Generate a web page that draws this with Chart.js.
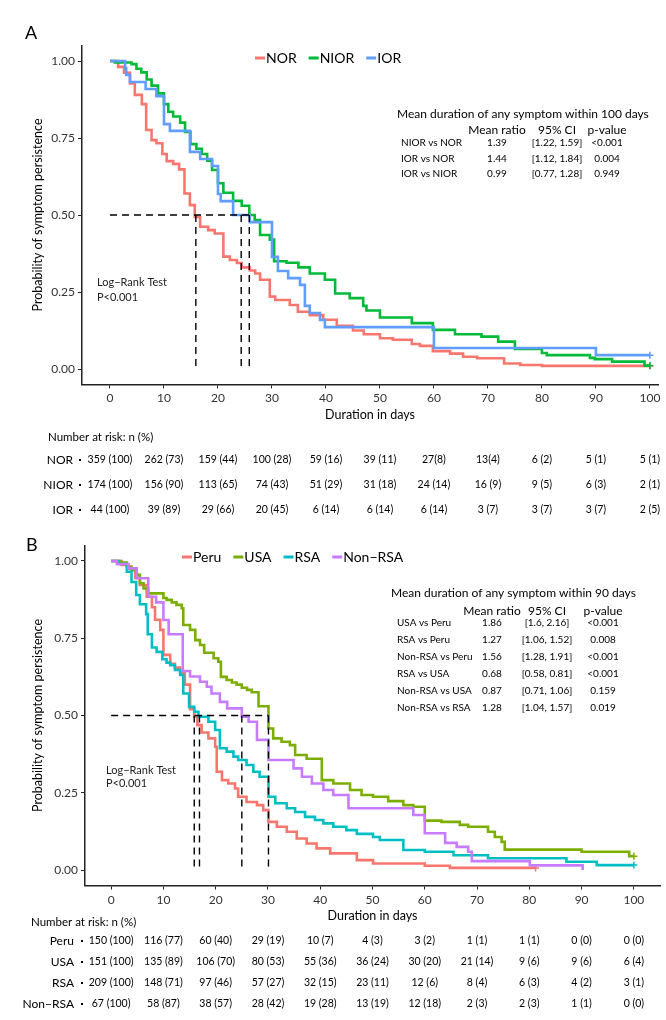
<!DOCTYPE html>
<html>
<head>
<meta charset="utf-8">
<script src="https://cdn.jsdelivr.net/npm/chart.js@4.4.0/dist/chart.umd.min.js"></script>
<style>
body{margin:0;background:#fff;width:666px;height:1020px;overflow:hidden}
canvas{display:block}
</style>
</head>
<body>
<canvas id="chartA" width="666" height="525"></canvas>
<canvas id="chartB" width="666" height="495"></canvas>
<script>
var FONT='Lato, "Open Sans", sans-serif';
var xTicks=[0,10,20,30,40,50,60,70,80,90,100];
var yTicks=[0,0.25,0.5,0.75,1];

// panel A - symptom groups
var groupsA=['NOR','NIOR','IOR'];
var colorsA=['#F8766D','#00BA38','#619CFF'];
var norTime=[0,1.5,2.6,3.7,4.6,5.9,6.7,7.7,8.6,9.7,10.5,11.7,12.8,13.8,14.8,15.7,16.7,18.2,19.4,21,22.2,23.5,24.4,25.9,26.9,27.8,29.6,30.6,33.3,34.8,37,39.5,42,45,47,50,52.4,55.9,57.4,59.8,63,65.4,68,73,76,80,100];
var norSurv=[1,0.981,0.962,0.927,0.89,0.86,0.776,0.743,0.733,0.698,0.675,0.666,0.648,0.57,0.532,0.494,0.462,0.451,0.44,0.365,0.354,0.344,0.33,0.32,0.31,0.29,0.235,0.224,0.208,0.186,0.175,0.16,0.14,0.125,0.113,0.1,0.095,0.081,0.075,0.058,0.05,0.04,0.035,0.018,0.013,0.01,0.01];
var niorTime=[0,0.9,4,4.9,5.8,6.8,7.7,8.9,10,10.8,11.7,13,13.9,14.9,16,17,18,18.9,20,21,22.8,24.4,25.8,26.8,27.8,29.6,30.4,32.7,34.9,37,39.8,41.7,44.4,46.9,47.5,50,55.9,59.8,63.9,68.8,71.9,75,80,80.9,88.9,89.8,93,99,100];
var niorSurv=[1,0.995,0.99,0.975,0.963,0.94,0.92,0.895,0.86,0.835,0.82,0.8,0.77,0.73,0.715,0.698,0.676,0.646,0.603,0.572,0.546,0.53,0.5,0.484,0.435,0.42,0.35,0.345,0.33,0.31,0.29,0.245,0.23,0.205,0.19,0.167,0.149,0.127,0.113,0.105,0.089,0.065,0.052,0.045,0.036,0.032,0.024,0.011,0.011];
var iorTime=[0,2.8,3,3.7,6.6,8.6,10,11.1,14.8,16.7,18.9,20,20.5,22.8,25.9,30,31.1,33,35.2,36.1,37,38.9,39.8,60,90,100];
var iorSurv=[1,0.977,0.955,0.932,0.909,0.886,0.795,0.773,0.705,0.682,0.659,0.568,0.545,0.5,0.477,0.364,0.318,0.295,0.273,0.205,0.182,0.159,0.136,0.068,0.045,0.045];
var mediansA=[15.9,24.3,25.8];

var compLabelsA=['NIOR vs NOR','IOR vs NOR','IOR vs NIOR'];
var compRatioA=['1.39','1.44','0.99'];
var compCiA=['[1.22, 1.59]','[1.12, 1.84]','[0.77, 1.28]'];
var compPA=['<0.001','0.004','0.949'];

var riskNOR=['359 (100)','262 (73)','159 (44)','100 (28)','59 (16)','39 (11)','27(8)','13(4)','6 (2)','5 (1)','5 (1)'];
var riskNIOR=['174 (100)','156 (90)','113 (65)','74 (43)','51 (29)','31 (18)','24 (14)','16 (9)','9 (5)','6 (3)','2 (1)'];
var riskIOR=['44 (100)','39 (89)','29 (66)','20 (45)','6 (14)','6 (14)','6 (14)','3 (7)','3 (7)','3 (7)','2 (5)'];

// panel B - sites
var groupsB=['Peru','USA','RSA','Non\u2212RSA'];
var colorsB=['#F8766D','#7CAE00','#00BFC4','#C77CFF'];
var peruTime=[0,2,3.3,4.6,5.5,6.8,7.8,8.4,9.4,10,11.3,12.2,13.2,14.1,15.1,15.9,16.5,17.3,18.6,19.9,20.2,21.2,22.4,23.7,24.3,25.9,27.9,29.1,30.1,31.7,33.6,35.5,37.4,39.3,41.9,47,50.1,60,64.8,81.2];
var peruSurv=[1,0.987,0.975,0.945,0.922,0.884,0.85,0.81,0.777,0.696,0.667,0.655,0.638,0.6,0.52,0.496,0.469,0.445,0.426,0.399,0.318,0.291,0.28,0.264,0.237,0.22,0.21,0.194,0.156,0.14,0.124,0.102,0.086,0.07,0.054,0.032,0.021,0.014,0.007,0.007];
var usaTime=[0,1.7,3,3.9,4.9,5.5,6.2,7.1,10,10.6,11.6,12.5,13.5,13.8,15.1,16.1,17,17.8,19.6,20.5,21,22.1,23.1,24,25,26,26.9,28.2,30.1,31,32.6,34.2,35.2,37.4,40.3,42.5,45.7,47.9,50.1,53,55.9,57.8,60,63.2,66.7,68.3,72.1,73.4,74.7,75.3,90,99.1,100];
var usaSurv=[1,0.995,0.982,0.97,0.955,0.928,0.911,0.895,0.88,0.874,0.866,0.858,0.847,0.793,0.777,0.744,0.728,0.703,0.685,0.674,0.625,0.615,0.607,0.6,0.59,0.583,0.575,0.53,0.458,0.426,0.415,0.404,0.372,0.36,0.291,0.28,0.259,0.243,0.237,0.223,0.21,0.205,0.16,0.156,0.146,0.14,0.124,0.107,0.091,0.066,0.059,0.045,0.045];
var rsaTime=[0,1.4,3,3.9,4.8,5.5,6.7,7,7.8,8.7,9.8,10.6,11.3,12.2,13.2,13.8,14.9,15.9,16.7,18.6,19.9,20.8,22.1,23.4,24.3,25.9,27.2,28.4,30.1,31.4,33.6,35.2,37.1,39,40.6,42.5,45,47,50.1,51.4,55.9,60,65.5,72.1,87.1,92.9,100];
var rsaSurv=[1,0.99,0.965,0.932,0.89,0.86,0.828,0.763,0.72,0.706,0.682,0.671,0.663,0.647,0.631,0.571,0.528,0.512,0.496,0.48,0.453,0.394,0.383,0.367,0.356,0.34,0.318,0.302,0.237,0.216,0.2,0.188,0.172,0.162,0.151,0.14,0.129,0.117,0.107,0.097,0.065,0.059,0.048,0.038,0.027,0.016,0.016];
var nonRsaTime=[0,1.1,3.3,4.9,7.1,8.6,10,11,13.7,15.1,17,18.3,19.2,20.8,22.2,25,26.3,27.9,30.1,34.9,36.5,38.4,40.6,42.5,45.4,57.8,60,63.9,66.1,68.3,69,80.1,90.2];
var nonRsaSurv=[1,0.99,0.976,0.944,0.884,0.866,0.809,0.763,0.644,0.626,0.609,0.593,0.571,0.544,0.523,0.496,0.48,0.421,0.356,0.329,0.302,0.28,0.259,0.243,0.2,0.178,0.119,0.088,0.075,0.059,0.029,0.015,0];
var mediansB=[15.9,16.9,25,30.1];

var compLabelsB=['USA vs Peru','RSA vs Peru','Non-RSA vs Peru','RSA vs USA','Non-RSA vs USA','Non-RSA vs RSA'];
var compRatioB=['1.86','1.27','1.56','0.68','0.87','1.28'];
var compCiB=['[1.6, 2.16]','[1.06, 1.52]','[1.28, 1.91]','[0.58, 0.81]','[0.71, 1.06]','[1.04, 1.57]'];
var compPB=['<0.001','0.008','<0.001','<0.001','0.159','0.019'];

var riskPeru=['150 (100)','116 (77)','60 (40)','29 (19)','10 (7)','4 (3)','3 (2)','1 (1)','1 (1)','0 (0)','0 (0)'];
var riskUSA=['151 (100)','135 (89)','106 (70)','80 (53)','55 (36)','36 (24)','30 (20)','21 (14)','9 (6)','9 (6)','6 (4)'];
var riskRSA=['209 (100)','148 (71)','97 (46)','57 (27)','32 (15)','23 (11)','12 (6)','8 (4)','6 (3)','4 (2)','3 (1)'];
var riskNonRSA=['67 (100)','58 (87)','38 (57)','28 (42)','19 (28)','13 (19)','12 (18)','2 (3)','2 (3)','1 (1)','0 (0)'];


function kmSet(label,time,surv,color,order){
    var last=time.length-1;
    return {
        label:label,
        data:time.map(function(t,i){return {x:t,y:surv[i]};}),
        borderColor:color,
        backgroundColor:color,
        borderWidth:2.6,
        stepped:'before',
        fill:false,
        order:order,
        pointStyle:'cross',
        pointRadius:function(c){return (c.dataIndex===last && surv[last]>0)?3.5:0;},
        pointBorderWidth:1.5,
        pointBorderColor:color
    };
}

function dashSet(pts){
    return {data:pts,borderColor:'#000',borderWidth:1.4,borderDash:[7,5],pointRadius:0,fill:false,order:0};
}

function medianSets(meds){
    var sets=[dashSet([{x:0,y:0.5},{x:Math.max.apply(null,meds),y:0.5}])];
    meds.forEach(function(m){ sets.push(dashSet([{x:m,y:0.5},{x:m,y:0}])); });
    return sets;
}

function overlay(c){
    return {
        id:'overlay',
        afterDraw:function(chart){
            var ctx=chart.ctx, xs=chart.scales.x;
            ctx.save();
            ctx.textBaseline='middle';
            ctx.fillStyle='#000';

            ctx.font='18px '+FONT;
            ctx.textAlign='left';
            ctx.fillText(c.letter,c.letterX,c.letterY);

            // legend
            ctx.font='14px '+FONT;
            var lx=c.legendX;
            c.groups.forEach(function(g,i){
                ctx.fillStyle=c.colors[i];
                ctx.fillRect(lx,c.legendY-1.5,10,3);
                ctx.fillStyle='#000';
                ctx.fillText(g,lx+11,c.legendY);
                lx+=11+ctx.measureText(g).width+12;
            });

            // log-rank
            ctx.font='11px '+FONT;
            ctx.fillStyle='#222';
            ctx.fillText('Log\u2212Rank Test',c.lrX,c.lrY[0]);
            ctx.fillText('P<0.001',c.lrX,c.lrY[1]);

            // mean duration table
            ctx.fillStyle='#000';
            ctx.font='12px '+FONT;
            ctx.fillText(c.tabTitle,c.tabTitleX,c.tabTitleY);
            ctx.textAlign='center';
            ['Mean ratio','95% CI','p-value'].forEach(function(h,i){ ctx.fillText(h,c.tabCols[i],c.tabHeadY); });
            ctx.font='10px '+FONT;
            c.comp[0].forEach(function(lab,r){
                var y=c.tabRowY[r];
                ctx.textAlign='left';
                ctx.fillText(lab,c.tabLabelX,y);
                ctx.textAlign='center';
                ctx.fillText(c.comp[1][r],c.tabCols[0],y);
                ctx.fillText(c.comp[2][r],c.tabCols[1],y);
                ctx.fillText(c.comp[3][r],c.tabCols[2],y);
            });

            // number at risk
            ctx.textAlign='left';
            ctx.font='11.5px '+FONT;
            ctx.fillText('Number at risk: n (%)',c.riskX,c.riskHeadY);
            c.risk.forEach(function(row,r){
                var y=c.riskRowY[r];
                ctx.font='12px '+FONT;
                ctx.textAlign='right';
                ctx.fillText(c.groups[r],c.riskLabelX,y);
                ctx.fillRect(c.riskDotX-1,y-1,2,2);
                ctx.font='10.5px '+FONT;
                ctx.textAlign='center';
                row.forEach(function(v,i){ ctx.fillText(v,xs.getPixelForValue(xTicks[i]),y); });
            });
            ctx.restore();
        }
    };
}

function scaleOpts(xmin,xmax,yWidth,xHeight,xTitlePad){
    var tickFont={family:FONT,size:12};
    return {
        x:{
            type:'linear',min:xmin,max:xmax,
            afterBuildTicks:function(s){ s.ticks=xTicks.map(function(v){return {value:v};}); },
            afterFit:function(s){ s.height=xHeight; s.paddingLeft=0; s.paddingRight=0; },
            ticks:{font:tickFont,color:'#333',padding:3,maxRotation:0,autoSkip:false},
            grid:{display:true,drawOnChartArea:false,drawTicks:true,tickLength:4,tickColor:'#222',tickWidth:1},
            border:{display:true,color:'#222',width:1.5},
            title:{display:true,text:'Duration in days',font:{family:FONT,size:12.5},color:'#000',padding:{top:0,bottom:xTitlePad}}
        },
        y:{
            type:'linear',min:-0.05,max:1.05,
            afterBuildTicks:function(s){ s.ticks=yTicks.map(function(v){return {value:v};}); },
            afterFit:function(s){ s.width=yWidth; },
            ticks:{font:tickFont,color:'#333',padding:3,callback:function(v){return v.toFixed(2);}},
            grid:{display:true,drawOnChartArea:false,drawTicks:true,tickLength:4,tickColor:'#222',tickWidth:1},
            border:{display:true,color:'#222',width:1.5},
            title:{display:true,text:'Probability of symptom persistence',font:{family:FONT,size:12.5},color:'#000',padding:{top:30.5,bottom:0}}
        }
    };
}

var datasetsA=medianSets(mediansA).concat([
    kmSet('IOR',iorTime,iorSurv,colorsA[2],1),
    kmSet('NIOR',niorTime,niorSurv,colorsA[1],2),
    kmSet('NOR',norTime,norSurv,colorsA[0],3)
]);

var chartA=new Chart(document.getElementById('chartA').getContext('2d'),{
    type:'line',
    data:{datasets:datasetsA},
    options:{
        responsive:false,animation:false,events:[],
        layout:{padding:{top:45.6,right:8,bottom:0,left:0}},
        plugins:{legend:{display:false},tooltip:{enabled:false}},
        scales:scaleOpts(-5.185,101.5,82,140.6,102.5)
    },
    plugins:[overlay({
        letter:'A',letterX:25,letterY:33,
        groups:groupsA,colors:colorsA,legendX:255,legendY:58,
        lrX:97,lrY:[282,297],
        tabTitle:'Mean duration of any symptom within 100 days',tabTitleX:397,tabTitleY:114,
        tabHeadY:130,tabCols:[497,557,607],tabLabelX:401,tabRowY:[143,159,174],
        comp:[compLabelsA,compRatioA,compCiA,compPA],
        riskX:48,riskHeadY:437,riskLabelX:73,riskDotX:80,riskRowY:[460,485,510],
        risk:[riskNOR,riskNIOR,riskIOR]
    })]
});

var datasetsB=medianSets(mediansB).concat([
    kmSet('Non\u2212RSA',nonRsaTime,nonRsaSurv,colorsB[3],1),
    kmSet('RSA',rsaTime,rsaSurv,colorsB[2],2),
    kmSet('USA',usaTime,usaSurv,colorsB[1],3),
    kmSet('Peru',peruTime,peruSurv,colorsB[0],4)
]);

var chartB=new Chart(document.getElementById('chartB').getContext('2d'),{
    type:'line',
    data:{datasets:datasetsB},
    options:{
        responsive:false,animation:false,events:[],
        layout:{padding:{top:20.5,right:6,bottom:0,left:0}},
        plugins:{legend:{display:false},tooltip:{enabled:false}},
        scales:scaleOpts(-5,105,85,134.5,97)
    },
    plugins:[overlay({
        letter:'B',letterX:26,letterY:20,
        groups:groupsB,colors:colorsB,legendX:182,legendY:32,
        lrX:106,lrY:[245,258],
        tabTitle:'Mean duration of any symptom within 90 days',tabTitleX:391,tabTitleY:68,
        tabHeadY:86,tabCols:[492,547,603],tabLabelX:397,tabRowY:[98,115,132,149,166,183],
        comp:[compLabelsB,compRatioB,compCiB,compPB],
        riskX:31,riskHeadY:397,riskLabelX:74,riskDotX:82,riskRowY:[416,437,458,479],
        risk:[riskPeru,riskUSA,riskRSA,riskNonRSA]
    })]
});
</script>
</body>
</html>
